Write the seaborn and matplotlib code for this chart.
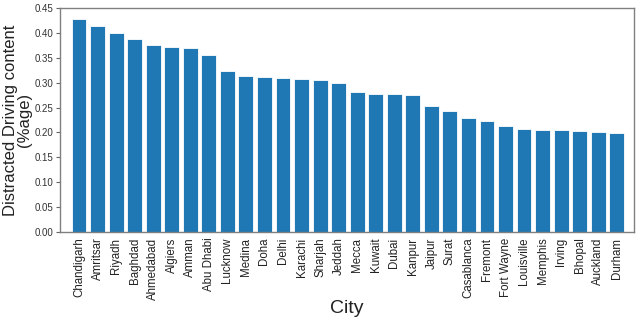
import matplotlib
matplotlib.use("Agg")
import matplotlib.pyplot as plt
import pandas as pd
import seaborn as sns

cities = ['Chandigarh', 'Amritsar', 'Riyadh', 'Baghdad', 'Ahmedabad', 'Algiers', 'Amman',
          'Abu Dhabi', 'Lucknow', 'Medina', 'Doha', 'Delhi', 'Karachi', 'Sharjah', 'Jeddah',
          'Mecca', 'Kuwait', 'Dubai', 'Kanpur', 'Jaipur', 'Surat', 'Casablanca', 'Fremont',
          'Fort Wayne', 'Louisville', 'Memphis', 'Irving', 'Bhopal', 'Auckland', 'Durham']
content = [0.428, 0.414, 0.399, 0.388, 0.376, 0.372, 0.369, 0.355, 0.323, 0.313,
           0.311, 0.309, 0.307, 0.306, 0.299, 0.282, 0.277, 0.277, 0.275, 0.254,
           0.243, 0.229, 0.222, 0.213, 0.206, 0.204, 0.204, 0.203, 0.200, 0.198]
yticks = [0.0, 0.05, 0.1, 0.15, 0.2, 0.25, 0.3, 0.35, 0.4, 0.45]

df = pd.DataFrame({'City': cities, 'content': content})

sns.set_style('white')
plt.rcParams['font.family'] = ['Liberation Sans', 'DejaVu Sans']

fig = plt.figure(figsize=(6.4, 3.2), dpi=100)
ax = fig.add_axes([0.093, 0.275, 0.898, 0.7])
sns.barplot(data=df, x='City', y='content', color='#1f77b4', saturation=1,
            edgecolor='white', linewidth=0.6, width=0.8, ax=ax)

ax.set_xlim(-1.05, 29.94)
ax.set_ylim(0, 0.45)
ax.set_yticks(yticks)
ax.set_yticklabels([f'{v:.2f}' for v in yticks], fontsize=7, color='#333333')
ax.tick_params(axis='y', left=True, length=3, width=0.8, color='#666666', pad=1.5)
ax.tick_params(axis='x', bottom=False, labelsize=8.3, labelrotation=90, pad=0.5)
for lbl in ax.get_xticklabels():
    lbl.set_color('#222222')
for sp in ax.spines.values():
    sp.set_color('#808080')
    sp.set_linewidth(1)

ax.set_xlabel('City', fontsize=14, color='#222222', labelpad=0)
ax.set_ylabel('Distracted Driving content\n(%age)', fontsize=12, color='#222222',
              linespacing=0.9, labelpad=2)

fig.savefig('out.png', dpi=100)
